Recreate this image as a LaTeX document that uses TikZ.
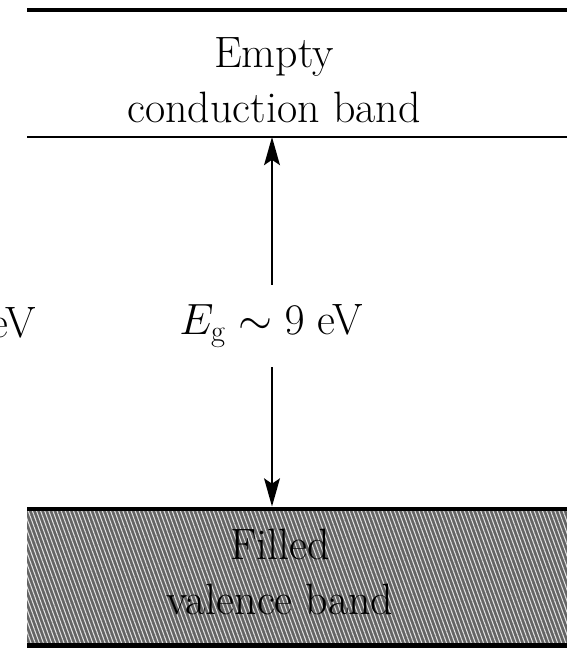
\documentclass[tikz,border=0pt]{standalone}
\usepackage{amsmath}
\usetikzlibrary{arrows.meta,positioning,patterns.meta}
\definecolor{bandgray}{RGB}{100,100,100}
\definecolor{hatchwhite}{RGB}{225,225,225}

\begin{document}
\begin{tikzpicture}[
    x=0.02cm, y=-0.02cm,
    bandtext/.style={font=\fontsize{25}{31}\selectfont, align=center, inner sep=0pt},
    gap/.style={-{Stealth[length=16pt,width=9pt,inset=3pt]}, line width=1.1pt},
    edgeline/.style={line width=2.2pt}
]
    \useasboundingbox (0,0) rectangle (566,648);

    % Filled valence band (hatched)
    \fill[bandgray] (27,509) rectangle (570,648);
    \fill[pattern={Lines[angle=110,distance=2.2pt,line width=0.6pt]}, pattern color=hatchwhite]
        (27,509) rectangle (570,648);

    % Band edges
    \draw[edgeline] (27,10) -- (570,10);
    \draw[line width=1.4pt] (27,137) coordinate (cb) -- (570,137);
    \draw[edgeline] (27,509) coordinate (vb) -- (570,509);
    \draw[line width=3.5pt] (27,646) -- (570,646);

    % Band labels
    \node[bandtext] (empty) at (274,80) {Empty\\conduction band};
    \node[bandtext] (filled) at (280,572) {Filled\\valence band};

    % Gap
    \node[bandtext, outer ysep=0.4cm] (eg) at (271,326) {$E_{\mathrm{g}} \sim 9$ eV};
    \node[bandtext, anchor=base east] (left) at (36,337) {eV};
    \draw[gap] (eg.north -| 272,0) -- (cb -| 272,0);
    \draw[gap] (eg.south -| 272,0) -- ([yshift=0.05cm]vb -| 272,0);
\end{tikzpicture}
\end{document}
